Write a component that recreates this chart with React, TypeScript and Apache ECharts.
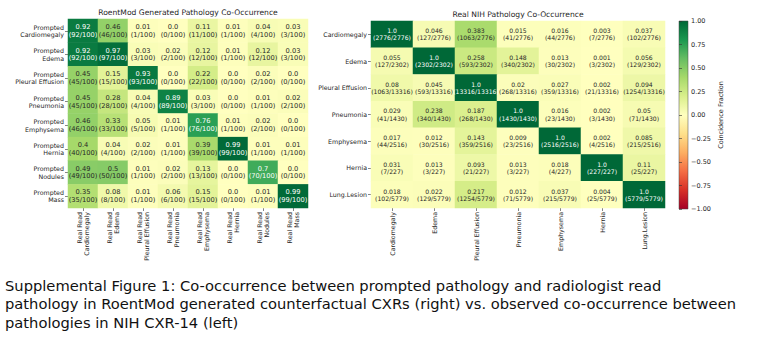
import React, { useEffect, useRef } from 'react';
import * as echarts from 'echarts';

// ---------- data ----------
const LEFT_NAMES = ['Cardiomegaly', 'Edema', 'Pleural Effusion', 'Pneumonia', 'Emphysema', 'Hernia', 'Nodules', 'Mass'];
const LEFT_VALUES = [
  [0.92, 0.46, 0.01, 0.0, 0.11, 0.01, 0.04, 0.03],
  [0.92, 0.97, 0.03, 0.02, 0.12, 0.01, 0.12, 0.03],
  [0.45, 0.15, 0.93, 0.0, 0.22, 0.0, 0.02, 0.0],
  [0.45, 0.28, 0.04, 0.89, 0.03, 0.0, 0.01, 0.02],
  [0.46, 0.33, 0.05, 0.01, 0.76, 0.01, 0.02, 0.0],
  [0.4, 0.04, 0.02, 0.01, 0.39, 0.99, 0.01, 0.01],
  [0.49, 0.5, 0.01, 0.02, 0.13, 0.0, 0.7, 0.0],
  [0.35, 0.08, 0.01, 0.06, 0.15, 0.0, 0.01, 0.99],
];
const LEFT_COUNTS = [
  [92, 46, 1, 0, 11, 1, 4, 3],
  [92, 97, 3, 2, 12, 1, 12, 3],
  [45, 15, 93, 0, 22, 0, 2, 0],
  [45, 28, 4, 89, 3, 0, 1, 2],
  [46, 33, 5, 1, 76, 1, 2, 0],
  [40, 4, 2, 1, 39, 99, 1, 1],
  [49, 50, 1, 2, 13, 0, 70, 0],
  [35, 8, 1, 6, 15, 0, 1, 99],
];
const LEFT_TOTALS = [100, 100, 100, 100, 100, 100, 100, 100];

const RIGHT_NAMES = ['Cardiomegaly', 'Edema', 'Pleural Effusion', 'Pneumonia', 'Emphysema', 'Hernia', 'Lung.Lesion'];
const RIGHT_VALUES = [
  [1.0, 0.046, 0.383, 0.015, 0.016, 0.003, 0.037],
  [0.055, 1.0, 0.258, 0.148, 0.013, 0.001, 0.056],
  [0.08, 0.045, 1.0, 0.02, 0.027, 0.002, 0.094],
  [0.029, 0.238, 0.187, 1.0, 0.016, 0.002, 0.05],
  [0.017, 0.012, 0.143, 0.009, 1.0, 0.002, 0.085],
  [0.031, 0.013, 0.093, 0.013, 0.018, 1.0, 0.11],
  [0.018, 0.022, 0.217, 0.012, 0.037, 0.004, 1.0],
];
const RIGHT_COUNTS = [
  [2776, 127, 1063, 41, 44, 7, 102],
  [127, 2302, 593, 340, 30, 3, 129],
  [1063, 593, 13316, 268, 359, 21, 1254],
  [41, 340, 268, 1430, 23, 3, 71],
  [44, 30, 359, 23, 2516, 4, 215],
  [7, 3, 21, 3, 4, 227, 25],
  [102, 129, 1254, 71, 215, 25, 5779],
];
const RIGHT_TOTALS = [2776, 2302, 13316, 1430, 2516, 227, 5779];

const COLORBAR_MIN = -1;
const COLORBAR_MAX = 1;
const COLORBAR_STEP = 0.25;

const LEFT_TITLE = 'RoentMod Generated Pathology Co-Occurrence';
const RIGHT_TITLE = 'Real NIH Pathology Co-Occurrence';
const COLORBAR_LABEL = 'Coincidence Fraction';
const CAPTION = [
  'Supplemental Figure 1: Co-occurrence between prompted pathology and radiologist read',
  'pathology in RoentMod generated counterfactual CXRs (right) vs. observed co-occurrence between',
  'pathologies in NIH CXR-14 (left)',
];

// RdYlGn colormap (low -> high)
const RDYLGN = ['#a50026', '#d73027', '#f46d43', '#fdae61', '#fee08b', '#ffffbf', '#d9ef8b', '#a6d96a', '#66bd63', '#1a9850', '#006837'];

const FONT = 'DejaVu Sans';
const TEXT = '#262626';

function fmtValue(v: number): string {
  const s = String(v);
  return s.includes('.') ? s : s + '.0';
}

function buildData(values: number[][], counts: number[][], totals: number[]) {
  const out: any[] = [];
  values.forEach((row, r) =>
    row.forEach((v, c) => {
      out.push({
        value: [c, r, v],
        count: counts[r][c],
        total: totals[r],
        label: { color: v >= 0.6 ? '#ffffff' : TEXT },
      });
    })
  );
  return out;
}

export default function App() {
  const ref = useRef<HTMLDivElement>(null);

  useEffect(() => {
    if (!ref.current) return;
    const chart = echarts.init(ref.current, null, { renderer: 'svg' });

    const gradient = new echarts.graphic.LinearGradient(
      0, 0, 0, 1,
      RDYLGN.slice().reverse().map((c, i) => ({ offset: i / (RDYLGN.length - 1), color: c }))
    );

    const labelFormatter = (p: any) => `${fmtValue(p.value[2])}\n(${p.data.count}/${p.data.total})`;

    const captionLines = CAPTION.map((line, i) => ({
      type: 'text',
      x: 5,
      y: 285 + i * 18.6,
      style: { text: line, fontSize: 14.7, fontFamily: 'DejaVu Sans', fill: '#111', textAlign: 'left', textVerticalAlign: 'middle' },
    }));

    const option: any = {
      animation: false,
      backgroundColor: '#ffffff',
      textStyle: { fontFamily: FONT },
      grid: [
        { left: 68, top: 19, width: 240, height: 189 },
        { left: 371, top: 21, width: 294, height: 187 },
        { left: 679, top: 21, width: 9, height: 188, show: true, backgroundColor: gradient, borderColor: '#444', borderWidth: 0.5 },
      ],
      xAxis: [
        {
          type: 'category', gridIndex: 0, data: LEFT_NAMES.map((n) => 'Real Read\n' + n), position: 'bottom',
          axisLine: { show: false }, splitLine: { show: false },
          axisTick: { show: true, alignWithLabel: true, length: 3, lineStyle: { color: '#333', width: 0.6 } },
          axisLabel: { interval: 0, rotate: 90, fontSize: 6.3, lineHeight: 7.4, color: TEXT, margin: 4, fontFamily: FONT },
        },
        {
          type: 'category', gridIndex: 1, data: RIGHT_NAMES, position: 'bottom',
          axisLine: { show: false }, splitLine: { show: false },
          axisTick: { show: true, alignWithLabel: true, length: 3, lineStyle: { color: '#333', width: 0.6 } },
          axisLabel: { interval: 0, rotate: 90, fontSize: 6.3, color: TEXT, margin: 4, fontFamily: FONT },
        },
        { type: 'value', gridIndex: 2, show: false, min: 0, max: 1 },
      ],
      yAxis: [
        {
          type: 'category', gridIndex: 0, data: LEFT_NAMES.map((n) => 'Prompted\n' + n), inverse: true,
          axisLine: { show: false }, splitLine: { show: false },
          axisTick: { show: true, alignWithLabel: true, length: 3, lineStyle: { color: '#333', width: 0.6 } },
          axisLabel: { interval: 0, fontSize: 6.3, lineHeight: 7.4, color: TEXT, margin: 4, fontFamily: FONT },
        },
        {
          type: 'category', gridIndex: 1, data: RIGHT_NAMES, inverse: true,
          axisLine: { show: false }, splitLine: { show: false },
          axisTick: { show: true, alignWithLabel: true, length: 3, lineStyle: { color: '#333', width: 0.6 } },
          axisLabel: { interval: 0, fontSize: 6.3, color: TEXT, margin: 4, fontFamily: FONT },
        },
        {
          type: 'value', gridIndex: 2, min: COLORBAR_MIN, max: COLORBAR_MAX, interval: COLORBAR_STEP, position: 'right',
          axisLine: { show: false }, splitLine: { show: false },
          axisTick: { show: true, length: 3, lineStyle: { color: '#333', width: 0.6 } },
          axisLabel: {
            fontSize: 6.5, color: TEXT, margin: 3, fontFamily: FONT,
            formatter: (v: number) => (v < 0 ? '\u2212' + Math.abs(v).toFixed(2) : v.toFixed(2)),
          },
          name: COLORBAR_LABEL, nameLocation: 'middle', nameGap: 29, nameRotate: 90,
          nameTextStyle: { fontSize: 6.5, color: TEXT, fontFamily: FONT },
        },
      ],
      visualMap: {
        type: 'continuous', show: false, min: COLORBAR_MIN, max: COLORBAR_MAX, dimension: 2,
        seriesIndex: [0, 1], inRange: { color: RDYLGN },
      },
      series: [
        {
          type: 'heatmap', xAxisIndex: 0, yAxisIndex: 0,
          data: buildData(LEFT_VALUES, LEFT_COUNTS, LEFT_TOTALS),
          label: { show: true, formatter: labelFormatter, fontSize: 6.7, lineHeight: 7.7, fontFamily: FONT },
          emphasis: { disabled: true },
        },
        {
          type: 'heatmap', xAxisIndex: 1, yAxisIndex: 1,
          data: buildData(RIGHT_VALUES, RIGHT_COUNTS, RIGHT_TOTALS),
          label: { show: true, formatter: labelFormatter, fontSize: 6.1, lineHeight: 7.2, fontFamily: FONT },
          emphasis: { disabled: true },
        },
      ],
      graphic: [
        { type: 'text', x: 188, y: 12, style: { text: LEFT_TITLE, fontSize: 7.6, fontFamily: FONT, fill: TEXT, textAlign: 'center', textVerticalAlign: 'middle' } },
        { type: 'text', x: 518, y: 14, style: { text: RIGHT_TITLE, fontSize: 7.6, fontFamily: FONT, fill: TEXT, textAlign: 'center', textVerticalAlign: 'middle' } },
        ...captionLines,
      ],
    };

    chart.setOption(option);
    return () => chart.dispose();
  }, []);

  return <div ref={ref} style={{ position: 'absolute', left: 0, top: 0, width: 763, height: 350 }} />;
}
